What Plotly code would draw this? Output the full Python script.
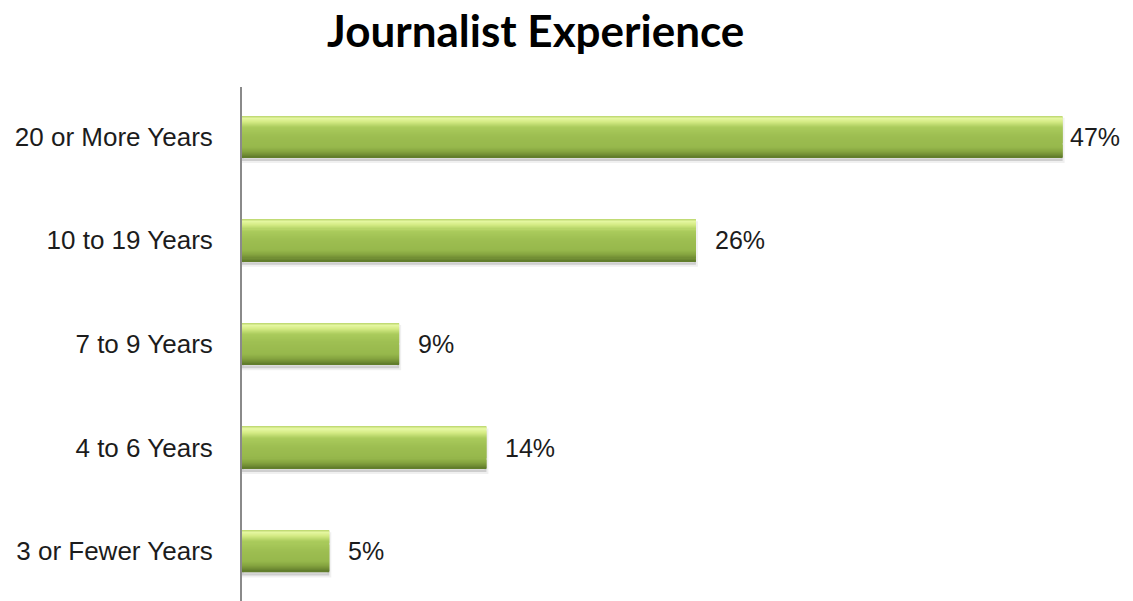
import plotly.graph_objects as go

# Years of experience reported by journalists (share of respondents, %)
categories = ["20 or More Years", "10 to 19 Years", "7 to 9 Years", "4 to 6 Years", "3 or Fewer Years"]
shares = [47, 26, 9, 14, 5]

title_text = "Journalist Experience"

# bar thickness in category units
H = 0.40

# vertical shading of the bars: (fraction from top, colour)
shade_stops = [
    (0.00, (184, 212, 106)),
    (0.06, (228, 246, 160)),
    (0.14, (214, 236, 134)),
    (0.28, (170, 203, 92)),
    (0.50, (157, 190, 81)),
    (0.75, (151, 184, 76)),
    (0.86, (134, 165, 64)),
    (0.95, (111, 140, 51)),
    (1.00, (94, 122, 42)),
]


def shade_at(t):
    for (t0, c0), (t1, c1) in zip(shade_stops, shade_stops[1:]):
        if t0 <= t <= t1:
            k = (t - t0) / (t1 - t0) if t1 > t0 else 0
            r, g, b = (round(a + (b_ - a) * k) for a, b_ in zip(c0, c1))
            return f"rgb({r},{g},{b})"
    r, g, b = shade_stops[-1][1]
    return f"rgb({r},{g},{b})"


N_BANDS = 40
band_h = H / N_BANDS

# horizontal nudge (px) of each value label from its bar end
label_gap = [5, 17, 17, 17, 17]

fig = go.Figure()

# soft drop shadow under each bar
fig.add_trace(go.Bar(
    y=categories, x=shares, orientation="h",
    width=H, offset=-H / 2 + 0.035,
    marker=dict(color="rgba(0,0,0,0.14)", line=dict(color="rgba(0,0,0,0.06)", width=4)),
    hoverinfo="skip", showlegend=False,
))

for i in range(N_BANDS):
    t = (i + 0.5) / N_BANDS
    fig.add_trace(go.Bar(
        y=categories, x=shares, orientation="h",
        width=band_h * 1.15, offset=-H / 2 + i * band_h,
        marker=dict(color=shade_at(t), line=dict(width=0)),
        hoverinfo="skip" if i else "x+y", showlegend=False,
    ))

annotations = [
    dict(
        x=v, y=c, xref="x", yref="y",
        text=f"{v}%", showarrow=False,
        xanchor="left", yanchor="middle", xshift=gap,
        font=dict(family="Liberation Sans, Arial", size=25, color="#1c1c1c"),
    )
    for c, v, gap in zip(categories, shares, label_gap)
]

annotations.append(dict(
    text=f"<b>{title_text}</b>",
    x=(535 - 242) / (1133 - 242 - 18),
    y=1 + (87 - 30) / (601 - 87),
    xref="paper", yref="paper",
    xanchor="center", yanchor="middle",
    showarrow=False,
    font=dict(family="Lato, Open Sans", size=44, color="#000000"),
))

fig.update_layout(
    width=1133, height=601,
    barmode="overlay",
    plot_bgcolor="white", paper_bgcolor="white",
    margin=dict(l=242, r=18, t=87, b=0),
    font=dict(family="Liberation Sans, Arial", size=25, color="#1c1c1c"),
    xaxis=dict(range=[0, 50], visible=False, showgrid=False, zeroline=False),
    yaxis=dict(
        type="category",
        categoryorder="array", categoryarray=categories,
        range=[4.48, -0.48],
        showgrid=False, zeroline=False,
        showline=True, linecolor="#8a8a8a", linewidth=2,
        ticks="", ticklabelstandoff=22,
        tickfont=dict(family="Liberation Sans, Arial", size=26, color="#1c1c1c"),
    ),
    annotations=annotations,
)

fig.write_html("out.html")
